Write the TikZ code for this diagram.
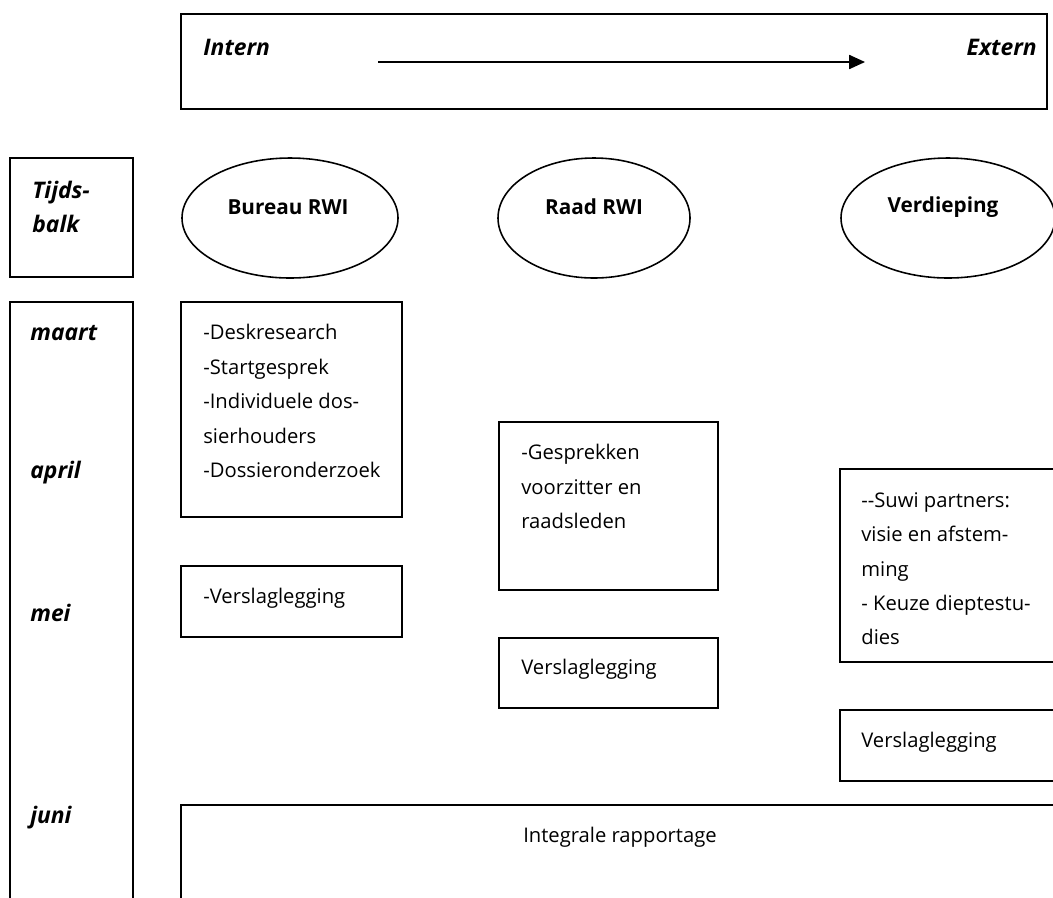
\documentclass[tikz,border=0pt]{standalone}
\usepackage{fontspec}
\setmainfont{Open Sans}
\usetikzlibrary{arrows.meta}
\tikzset{
  frame/.style = {draw, line width=0.9pt},
  txt/.style   = {font=\fontsize{11.5}{19.6}\selectfont, align=left, anchor=north west, inner sep=0pt},
  kop/.style   = {font=\bfseries\fontsize{11.8}{14}\selectfont, inner sep=0pt},
  tijd/.style  = {font=\bfseries\itshape\fontsize{13}{19.3}\selectfont, align=left, anchor=west, inner sep=0pt},
  pijl/.style  = {-{Triangle[length=9pt,width=8pt]}, line width=0.9pt},
}

\begin{document}
\begin{tikzpicture}[x=0.02cm, y=-0.02cm]
  \clip (0,0) rectangle (1053,897);
  % richting intern -> extern
  \draw[frame] (181,14) rectangle (1047,109);
  \node[tijd] (intern) at (203,47) {Intern};
  \node[tijd, anchor=east] (extern) at (1037,47) {Extern};
  \coordinate (pstart) at (378,62);
  \coordinate (peind) at (865,62);
  \draw[pijl] (pstart) -- (peind);

  % tijdsbalk
  \draw[frame] (10,158) rectangle (133,277);
  \node[tijd] (tijdsbalk) at (32,207) {Tijds-\\balk};
  \draw[frame] (10,302) rectangle (133,920);
  \foreach \m/\yy in {maart/333, april/473, mei/613, juni/818}
    \node[tijd] (\m) at (30,\yy) {\m};

  % kolomkoppen
  \draw[frame] (290,218) ellipse [x radius=108, y radius=60];
  \draw[frame] (594,218) ellipse [x radius=96, y radius=60];
  \draw[frame] (948,218) ellipse [x radius=107, y radius=60];
  \node[kop] (bureau) at (288,207) {Bureau RWI};
  \node[kop] (raad) at (594,207) {Raad RWI};
  \node[kop] (verdieping) at (943,207) {Verdieping};

  % Bureau RWI
  \draw[frame] (181,302) rectangle (402,517);
  \node[txt] (bur1) at (203,324) {-Deskresearch\\-Startgesprek\\-Individuele dos-\\sierhouders\\-Dossieronderzoek};
  \draw[frame] (181,566) rectangle (402,637);
  \node[txt] (bur2) at (203,588) {-Verslaglegging};

  % Raad RWI
  \draw[frame] (499,422) rectangle (718,590);
  \node[txt] (raad1) at (521,444) {-Gesprekken\\voorzitter en\\raadsleden};
  \draw[frame] (499,638) rectangle (718,708);
  \node[txt] (raad2) at (521,659) {Verslaglegging};

  % Verdieping
  \draw[frame] (840,469) rectangle (1070,662);
  \node[txt] (verd1) at (861,492) {-{}-Suwi partners:\\visie en afstem-\\ming\\- Keuze dieptestu-\\dies};
  \draw[frame] (840,710) rectangle (1070,781);
  \node[txt] (verd2) at (861,732) {Verslaglegging};

  % juni
  \draw[frame] (181,805) rectangle (1070,920);
  \node[font=\fontsize{11.5}{14}\selectfont] (integraal) at (620,837) {Integrale rapportage};
\end{tikzpicture}
\end{document}
